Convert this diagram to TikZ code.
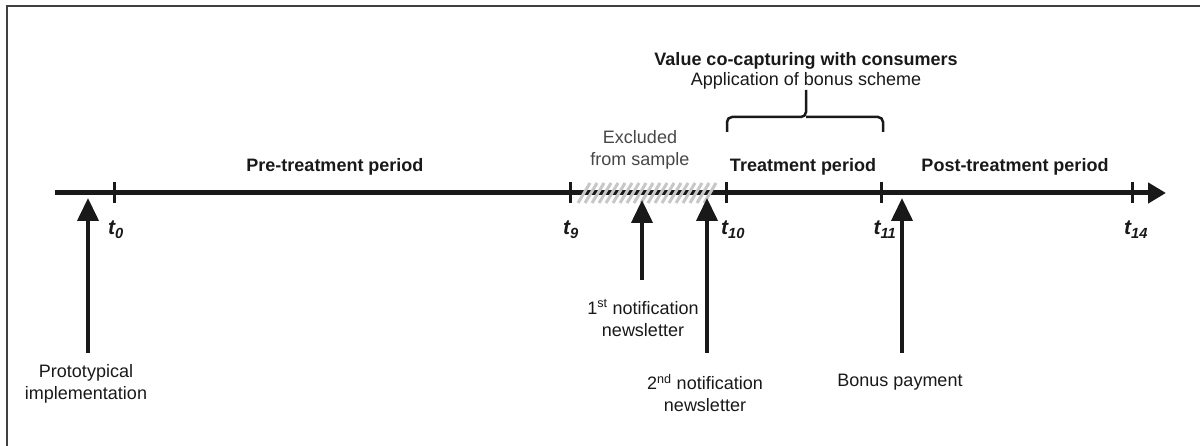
\documentclass[tikz,border=0pt]{standalone}
\usepackage{fontspec}
\setmainfont{Liberation Sans}
\usetikzlibrary{arrows.meta}
\begin{document}
\begin{tikzpicture}[x=1pt,y=-1pt,
  txt/.style={inner sep=0pt, align=center, text=black!90, font=\fontsize{18}{22}\selectfont},
  btxt/.style={txt, font=\fontsize{18}{22}\selectfont\bfseries},
  gtxt/.style={txt, text=black!72},
  tlab/.style={inner sep=0pt, text=black!90, font=\fontsize{21}{24}\selectfont\bfseries\itshape},
  axis/.style={line width=5pt, black!90, -{Triangle[length=18pt,width=20pt]}},
  tickmark/.style={line width=3pt, black!90},
  event/.style={line width=4pt, black!90, -{Triangle[length=23pt,width=21pt]}},
  hatch/.style={line width=3pt, black!22},
  bracket/.style={line width=2.5pt, black!90, rounded corners=5pt},
  frame/.style={line width=1.5pt, black!75}]
\useasboundingbox (0,0) rectangle (1200,446);

% partial frame
\draw[frame] (7,446) -- (7,6) -- (1200,6);

% time axis
\coordinate (axstart) at (55,193);
\coordinate (axend) at (1166,193);
\draw[axis] (axstart) -- (axend);

% excluded stretch (hatched)
\foreach \i in {0,...,18}
  \draw[hatch] (578+7*\i,203) -- ++(12,-20);

% ticks and their labels
\foreach \name/\x/\lx/\sub in {t0/114/116/0, t9/570/571/9, t10/726/733/10, t11/881/885/11, t14/1132/1136/14}{
  \draw[tickmark] (\x,182) -- (\x,203);
  \node[tlab, anchor=base] (\name) at (\lx,235) {t\textsubscript{\sub}};
}

% period labels
\node[btxt, anchor=base] (pre) at (335,172) {Pre-treatment period};
\node[btxt, anchor=base] (treat) at (803,172) {Treatment period};
\node[btxt, anchor=base] (post) at (1015,172) {Post-treatment period};
\node[gtxt] (excl) at (640,149.5) {Excluded\\from sample};

% bonus scheme heading and bracket
\node[btxt, anchor=base] (value) at (806,66) {Value co-capturing with consumers};
\node[txt, anchor=base] (scheme) at (806,86) {Application of bonus scheme};
\draw[bracket] (727,132) -- (727,117) -- (806,117) -- (806,90);
\draw[bracket] (883,132) -- (883,117) -- (806,117);

% events
\node[txt] (proto) at (86,384) {Prototypical\\implementation};
\node[txt] (news1) at (643,318) {1\textsuperscript{st} notification\\newsletter};
\node[txt] (news2) at (705,393) {2\textsuperscript{nd} notification\\newsletter};
\node[txt, anchor=base] (bonus) at (900,386) {Bonus payment};

\coordinate (protoTail) at (88,353);
\coordinate (protoTip) at (88,198);
\coordinate (news1Tail) at (642,280);
\coordinate (news1Tip) at (642,200);
\coordinate (news2Tail) at (707,353);
\coordinate (news2Tip) at (707,198);
\coordinate (bonusTail) at (902,353);
\coordinate (bonusTip) at (902,198);

\draw[event] (protoTail) -- (protoTip);
\draw[event] (news1Tail) -- (news1Tip);
\draw[event] (news2Tail) -- (news2Tip);
\draw[event] (bonusTail) -- (bonusTip);
\end{tikzpicture}
\end{document}
